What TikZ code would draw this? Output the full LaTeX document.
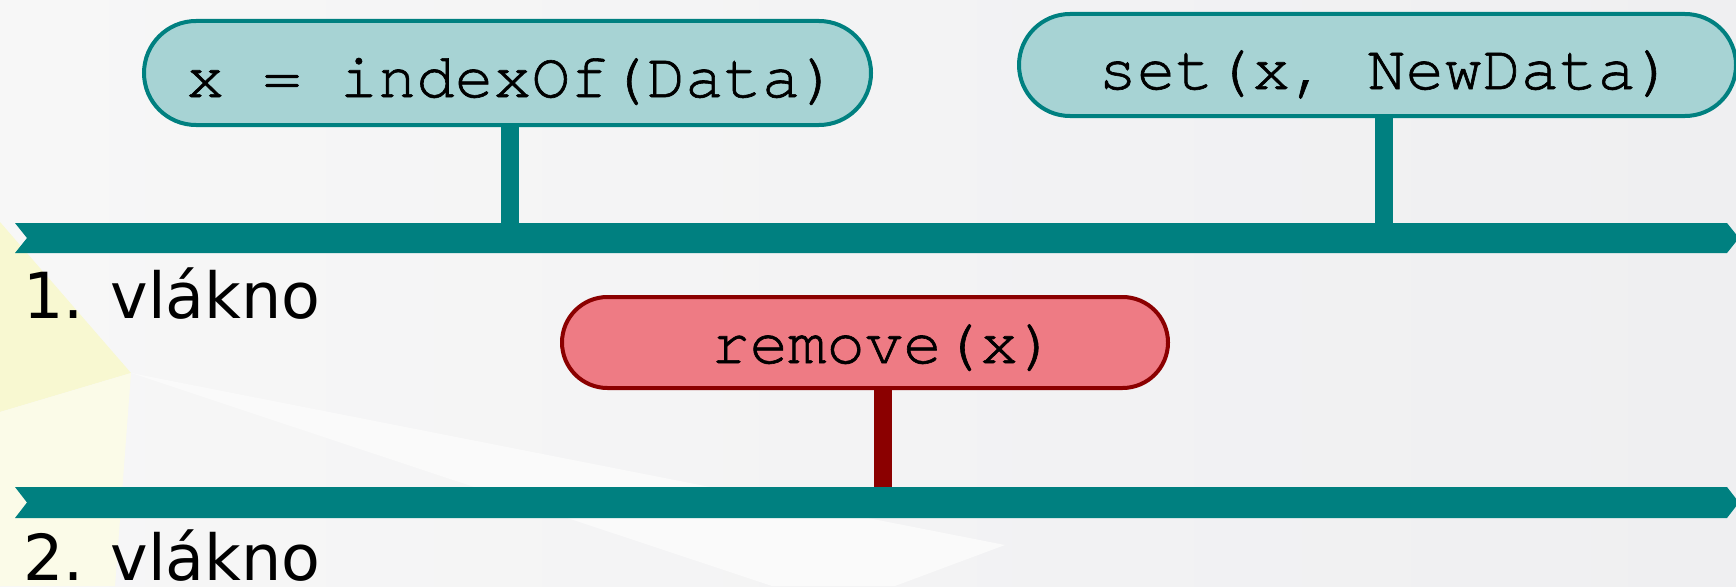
\documentclass[tikz,border=0pt]{standalone}
\usepackage{fontspec}
\newfontfamily\labelfont{DejaVu Sans}
\newfontfamily\codefont[FakeBold=1]{TeX Gyre Cursor}
\usetikzlibrary{shapes.misc}

\definecolor{threadteal}{HTML}{008080}
\definecolor{callfill}{HTML}{A7D3D4}
\definecolor{removefill}{HTML}{EE7B84}
\definecolor{removeedge}{HTML}{8B0000}
\definecolor{bgleft}{HTML}{F7F7F7}
\definecolor{bgright}{HTML}{EFEFF1}
\definecolor{shardyellow}{HTML}{F8F8D1}
\definecolor{paleyellow}{HTML}{FBFBE8}
\definecolor{shardwhite}{HTML}{FAFAFA}

\pgfdeclarelayer{backdrop}
\pgfdeclarelayer{links}
\pgfsetlayers{backdrop,links,main}

\begin{document}
\begin{tikzpicture}[x=1pt,y=-1pt,
  codebox/.style={rounded rectangle, line width=4pt, inner sep=0pt,
    font=\codefont\fontsize{64}{70}\selectfont, text depth=0pt},
  callbox/.style={codebox, draw=threadteal, fill=callfill, text height=48pt},
  removebox/.style={codebox, draw=removeedge, fill=removefill, text height=41pt},
  calllink/.style={draw=threadteal, line width=18pt},
  removelink/.style={draw=removeedge, line width=18pt},
  threadbar/.style={fill=threadteal},
  threadlabel/.style={anchor=base west, inner sep=0pt,
    font=\labelfont\fontsize{63.5}{70}\selectfont}]

\useasboundingbox (0,0) rectangle (1736,586);

% backdrop: soft gradient with pale facets
\begin{pgfonlayer}{backdrop}
  \shade[left color=bgleft, right color=bgright] (0,0) rectangle (1736,586);
  \fill[shardyellow] (0,222) -- (131,373) -- (0,412) -- cycle;
  \fill[paleyellow] (0,412) -- (131,373) -- (115,586) -- (0,586) -- cycle;
  \fill[shardwhite] (131,373) -- (1005,545) -- (895,586) -- (772,586) -- cycle;
\end{pgfonlayer}

% thread timelines
\fill[threadbar] (15,223) -- (1727,223) -- (1739,238) -- (1727,253)
  -- (15,253) -- (27,238) -- cycle;
\fill[threadbar] (15,487) -- (1727,487) -- (1739,502.5) -- (1727,518)
  -- (15,518) -- (27,502.5) -- cycle;

\node[threadlabel] (lab1) at (23,318) {1. vlákno};
\node[threadlabel] (lab2) at (23,580) {2. vlákno};

% operations
\node[callbox, minimum width=727pt, minimum height=104pt] (idx) at (507.5,73)
  {\hspace*{10pt}x = indexOf(Data)};
\node[callbox, minimum width=717pt, minimum height=102pt] (set) at (1377.5,65)
  {\hspace*{18pt}set(x, NewData)};
\node[removebox, minimum width=606pt, minimum height=91pt] (rem) at (865,342.5)
  {\hspace*{38pt}remove(x)};

% where each operation meets its thread
\coordinate (j1) at (510,223);
\coordinate (j2) at (1384,223);
\coordinate (j3) at (883,487);

\begin{pgfonlayer}{links}
  \draw[calllink] (idx.south -| j1) -- (j1);
  \draw[calllink] (set.south -| j2) -- (j2);
  \draw[removelink] (rem.south -| j3) -- (j3);
\end{pgfonlayer}

\end{tikzpicture}
\end{document}
